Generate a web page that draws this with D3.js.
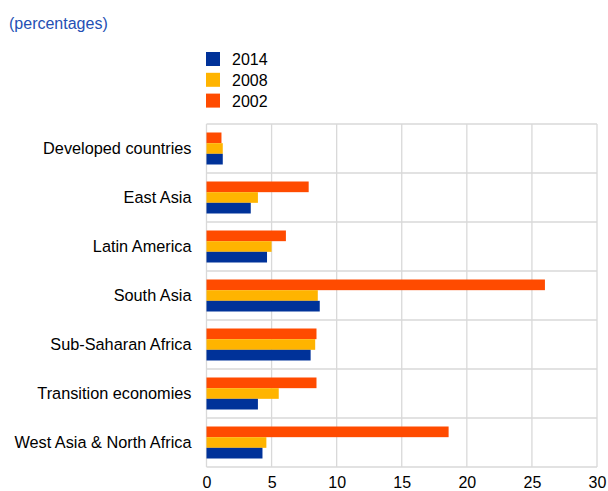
<!DOCTYPE html>
<html>
<head>
<meta charset="utf-8">
<script src="https://cdn.jsdelivr.net/npm/d3@7"></script>
<style>
  body { margin: 0; background: #fff; }
  text { font-family: "Liberation Sans", Arial, sans-serif; }
</style>
</head>
<body>
<div id="chart"></div>
<script>
var svgWidth = 608;
var svgHeight = 491;

var margin = {top: 124, right: 11, bottom: 24, left: 206.5};
var chartWidth = svgWidth - margin.left - margin.right;
var chartHeight = svgHeight - margin.top - margin.bottom;

// Data
var categories = ["Developed countries", "East Asia", "Latin America", "South Asia",
                  "Sub-Saharan Africa", "Transition economies", "West Asia & North Africa"];
var seriesNames = ["2002", "2008", "2014"];
var values2002 = [1.15, 7.85, 6.1, 26.0, 8.45, 8.45, 18.6];
var values2008 = [1.25, 3.95, 5.0, 8.55, 8.35, 5.55, 4.6];
var values2014 = [1.25, 3.4, 4.65, 8.7, 8.0, 3.95, 4.3];
var xTicks = [0, 5, 10, 15, 20, 25, 30];
var legendOrder = ["2014", "2008", "2002"];

var colors = {"2014": "#003299", "2008": "#FFB400", "2002": "#FF4B00"};
var seriesValues = {"2002": values2002, "2008": values2008, "2014": values2014};

var svg = d3.select("#chart").append("svg")
    .attr("width", svgWidth)
    .attr("height", svgHeight);

// Title
svg.append("text")
    .attr("x", 9)
    .attr("y", 29)
    .attr("fill", "#2450b4")
    .style("font-size", "16px")
    .text("(percentages)");

// Legend
var legend = svg.append("g").attr("transform", "translate(206, 52)");
legendOrder.forEach(function(name, i) {
    legend.append("rect")
        .attr("x", 0)
        .attr("y", i * 20.8)
        .attr("width", 14)
        .attr("height", 14)
        .attr("fill", colors[name]);
    legend.append("text")
        .attr("x", 26)
        .attr("y", i * 20.8 + 13)
        .style("font-size", "16px")
        .attr("fill", "#000")
        .text(name);
});

var chartGroup = svg.append("g")
    .attr("transform", `translate(${margin.left}, ${margin.top})`);

// Scales
var xScale = d3.scaleLinear().domain([0, 30]).range([0, chartWidth]);
var yScale = d3.scaleBand().domain(categories).range([0, chartHeight]).paddingInner(0).paddingOuter(0);
var innerScale = d3.scaleBand().domain(seriesNames).range([8.5, yScale.bandwidth() - 8.5]).padding(0);

// Grid
chartGroup.append("g").selectAll("line.v")
    .data(xTicks)
    .enter()
    .append("line")
    .attr("x1", d => xScale(d))
    .attr("x2", d => xScale(d))
    .attr("y1", 0)
    .attr("y2", chartHeight)
    .attr("stroke", "#d9d9d9")
    .attr("stroke-width", 1.3);

var hLines = categories.map(c => yScale(c)).concat([chartHeight]);
chartGroup.append("g").selectAll("line.h")
    .data(hLines)
    .enter()
    .append("line")
    .attr("x1", 0)
    .attr("x2", chartWidth)
    .attr("y1", d => d)
    .attr("y2", d => d)
    .attr("stroke", "#d9d9d9")
    .attr("stroke-width", 1.3);

// Bars
var groups = chartGroup.append("g").selectAll("g")
    .data(categories)
    .enter()
    .append("g")
    .attr("transform", d => `translate(0, ${yScale(d)})`);

groups.selectAll("rect")
    .data((c, i) => seriesNames.map(s => ({series: s, value: seriesValues[s][i]})))
    .enter()
    .append("rect")
    .attr("x", 0)
    .attr("y", d => innerScale(d.series))
    .attr("width", d => xScale(d.value))
    .attr("height", innerScale.bandwidth())
    .attr("fill", d => colors[d.series]);

// Category labels
chartGroup.append("g").selectAll("text")
    .data(categories)
    .enter()
    .append("text")
    .attr("x", -15)
    .attr("y", d => yScale(d) + yScale.bandwidth() / 2 + 5)
    .attr("text-anchor", "end")
    .style("font-size", "16.3px")
    .attr("fill", "#000")
    .text(d => d);

// X axis
var xAxis = d3.axisBottom(xScale).tickValues(xTicks).tickSize(0).tickPadding(10);
var xAxisGroup = chartGroup.append("g")
    .attr("transform", `translate(0, ${chartHeight})`)
    .call(xAxis);
xAxisGroup.select(".domain").remove();
xAxisGroup.selectAll("text")
    .style("font-size", "16px")
    .style("font-family", "Liberation Sans, Arial, sans-serif")
    .attr("fill", "#000");
</script>
</body>
</html>
